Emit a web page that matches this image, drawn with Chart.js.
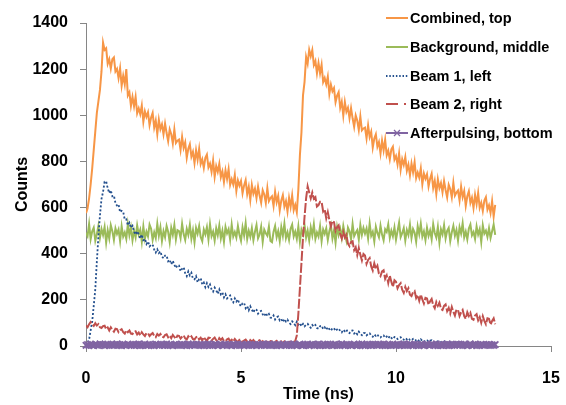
<!DOCTYPE html>
<html>
<head>
<meta charset="utf-8">
<script src="https://cdn.jsdelivr.net/npm/chart.js@4.4.1/dist/chart.umd.min.js"></script>
<style>
  body { margin: 0; background: #fff; }
  #wrap { position: relative; width: 566px; height: 405px; }
  #legend { position: absolute; left: 384px; top: 0; font: bold 14.5px "Liberation Sans", Arial, sans-serif; color: #000; }
  .row { position: absolute; left: 0; height: 20px; line-height: 20px; white-space: nowrap; }
  .row svg { position: absolute; left: 0; top: 0; }
  .row span { position: absolute; left: 26px; }
</style>
</head>
<body>
<div id="wrap">
  <canvas id="chart" width="566" height="405"></canvas>
  <div id="legend"></div>
</div>
<script>
// sample times (ns), 0.05 ns apart
const times = [
  0, 0.05, 0.1, 0.15, 0.2, 0.25, 0.3, 0.35, 0.4, 0.45,
  0.5, 0.55, 0.6, 0.65, 0.7, 0.75, 0.8, 0.85, 0.9, 0.95,
  1, 1.05, 1.1, 1.15, 1.2, 1.25, 1.3, 1.35, 1.4, 1.45,
  1.5, 1.55, 1.6, 1.65, 1.7, 1.75, 1.8, 1.85, 1.9, 1.95,
  2, 2.05, 2.1, 2.15, 2.2, 2.25, 2.3, 2.35, 2.4, 2.45,
  2.5, 2.55, 2.6, 2.65, 2.7, 2.75, 2.8, 2.85, 2.9, 2.95,
  3, 3.05, 3.1, 3.15, 3.2, 3.25, 3.3, 3.35, 3.4, 3.45,
  3.5, 3.55, 3.6, 3.65, 3.7, 3.75, 3.8, 3.85, 3.9, 3.95,
  4, 4.05, 4.1, 4.15, 4.2, 4.25, 4.3, 4.35, 4.4, 4.45,
  4.5, 4.55, 4.6, 4.65, 4.7, 4.75, 4.8, 4.85, 4.9, 4.95,
  5, 5.05, 5.1, 5.15, 5.2, 5.25, 5.3, 5.35, 5.4, 5.45,
  5.5, 5.55, 5.6, 5.65, 5.7, 5.75, 5.8, 5.85, 5.9, 5.95,
  6, 6.05, 6.1, 6.15, 6.2, 6.25, 6.3, 6.35, 6.4, 6.45,
  6.5, 6.55, 6.6, 6.65, 6.7, 6.75, 6.8, 6.85, 6.9, 6.95,
  7, 7.05, 7.1, 7.15, 7.2, 7.25, 7.3, 7.35, 7.4, 7.45,
  7.5, 7.55, 7.6, 7.65, 7.7, 7.75, 7.8, 7.85, 7.9, 7.95,
  8, 8.05, 8.1, 8.15, 8.2, 8.25, 8.3, 8.35, 8.4, 8.45,
  8.5, 8.55, 8.6, 8.65, 8.7, 8.75, 8.8, 8.85, 8.9, 8.95,
  9, 9.05, 9.1, 9.15, 9.2, 9.25, 9.3, 9.35, 9.4, 9.45,
  9.5, 9.55, 9.6, 9.65, 9.7, 9.75, 9.8, 9.85, 9.9, 9.95,
  10, 10.05, 10.1, 10.15, 10.2, 10.25, 10.3, 10.35, 10.4, 10.45,
  10.5, 10.55, 10.6, 10.65, 10.7, 10.75, 10.8, 10.85, 10.9, 10.95,
  11, 11.05, 11.1, 11.15, 11.2, 11.25, 11.3, 11.35, 11.4, 11.45,
  11.5, 11.55, 11.6, 11.65, 11.7, 11.75, 11.8, 11.85, 11.9, 11.95,
  12, 12.05, 12.1, 12.15, 12.2, 12.25, 12.3, 12.35, 12.4, 12.45,
  12.5, 12.55, 12.6, 12.65, 12.7, 12.75, 12.8, 12.85, 12.9, 12.95,
  13, 13.05, 13.1, 13.15, 13.2
];

const combined = [
  576, 596, 640, 700, 770, 850, 930, 1010, 1060, 1110,
  1190, 1315, 1283, 1290, 1223, 1243, 1202, 1243, 1251, 1190,
  1201, 1161, 1204, 1128, 1171, 1134, 1200, 1086, 1100, 1041,
  1080, 1039, 1080, 1009, 1030, 1005, 1043, 972, 1017, 993,
  1013, 957, 990, 1010, 947, 977, 918, 981, 940, 961,
  918, 964, 923, 888, 939, 918, 878, 939, 880, 890,
  895, 850, 907, 859, 883, 816, 855, 875, 821, 842,
  793, 849, 807, 855, 789, 809, 772, 816, 830, 774,
  791, 755, 804, 733, 780, 755, 790, 732, 757, 711,
  762, 724, 767, 699, 723, 700, 741, 672, 718, 695,
  715, 662, 696, 719, 658, 690, 633, 698, 660, 682,
  641, 691, 652, 621, 675, 657, 620, 684, 628, 641,
  649, 607, 668, 623, 651, 588, 631, 654, 604, 628,
  583, 642, 603, 653, 589, 612, 580, 678, 826, 925,
  1086, 1145, 1253, 1224, 1284, 1256, 1283, 1218, 1236, 1182,
  1227, 1182, 1219, 1144, 1162, 1134, 1168, 1093, 1133, 1104,
  1118, 1057, 1085, 1100, 1032, 1059, 998, 1058, 1015, 1033,
  987, 1031, 987, 950, 999, 977, 936, 995, 935, 943,
  947, 900, 956, 906, 929, 860, 899, 918, 864, 884,
  835, 890, 848, 894, 827, 847, 809, 852, 864, 808,
  824, 787, 835, 764, 810, 785, 819, 760, 786, 740,
  791, 753, 797, 728, 752, 730, 770, 701, 748, 725,
  745, 691, 725, 747, 685, 716, 659, 723, 684, 707,
  666, 715, 676, 644, 699, 680, 644, 707, 652, 665,
  674, 631, 691, 645, 672, 607, 649, 671, 620, 643,
  598, 655, 615, 664, 599, 621, 585, 630, 645, 591,
  610, 577, 628, 561, 612
];

const background = [
  491, 476, 529, 463, 497, 513, 456, 485, 521, 469,
  507, 481, 516, 448, 501, 466, 524, 498, 460, 510,
  486, 505, 454, 519, 474, 492, 464, 528, 480, 514,
  458, 500, 470, 523, 484, 504, 452, 518, 465, 496,
  475, 526, 508, 460, 493, 468, 530, 478, 515, 455,
  498, 472, 520, 495, 450, 512, 482, 525, 462, 502,
  498, 468, 530, 485, 460, 508, 482, 525, 465, 502,
  450, 512, 487, 520, 472, 454, 505, 484, 515, 462,
  528, 476, 496, 457, 510, 480, 522, 466, 500, 452,
  516, 488, 506, 461, 526, 475, 494, 470, 520, 482,
  456, 514, 479, 532, 464, 499, 473, 511, 459, 495,
  524, 467, 483, 517, 451, 504, 489, 478, 518, 455,
  450, 495, 520, 472, 498, 455, 515, 478, 530, 468,
  493, 460, 508, 526, 475, 496, 465, 518, 452, 504,
  484, 523, 470, 500, 458, 514, 480, 528, 464, 492,
  474, 519, 454, 505, 486, 510, 460, 498, 524, 466,
  501, 448, 516, 481, 507, 469, 521, 485, 456, 513,
  497, 463, 529, 476, 491, 502, 462, 525, 482, 512,
  487, 509, 466, 531, 478, 495, 453, 517, 490, 471,
  522, 483, 458, 506, 494, 527, 469, 500, 476, 514,
  461, 498, 535, 472, 489, 511, 457, 503, 481, 526,
  468, 507, 492, 452, 519, 485, 530, 474, 497, 459,
  513, 477, 501, 463, 528, 490, 470, 516, 449, 506,
  484, 524, 466, 499, 512, 455, 493, 521, 478, 503,
  457, 515, 488, 532, 471, 496, 462, 509, 527, 480,
  494, 464, 518, 483, 506, 451, 523, 487, 500, 473,
  511, 468, 497, 526, 482
];

const beam1 = [
  0, 12, 28, 68, 106, 175, 246, 366, 476, 566,
  638, 668, 712, 714, 684, 663, 675, 649, 652, 619,
  609, 614, 580, 586, 582, 548, 549, 523, 534, 512,
  521, 496, 483, 497, 484, 466, 483, 459, 465, 442,
  453, 432, 438, 440, 418, 405, 419, 403, 410, 388,
  380, 392, 392, 367, 374, 354, 369, 352, 338, 351,
  349, 324, 335, 341, 316, 303, 323, 306, 317, 291,
  289, 302, 276, 290, 294, 267, 275, 255, 272, 256,
  267, 246, 236, 253, 242, 226, 245, 224, 232, 211,
  224, 206, 214, 219, 199, 189, 206, 193, 202, 182,
  172, 185, 187, 164, 173, 155, 172, 157, 145, 160,
  157, 140, 149, 152, 137, 129, 143, 131, 139, 123,
  122, 132, 115, 125, 128, 111, 117, 104, 117, 106,
  114, 101, 95, 107, 100, 90, 105, 92, 99, 86,
  96, 85, 92, 96, 85, 79, 91, 84, 91, 78,
  75, 86, 88, 74, 81, 70, 82, 73, 66, 77,
  77, 65, 72, 76, 65, 59, 71, 64, 71, 58,
  56, 66, 67, 54, 61, 51, 62, 53, 47, 57,
  56, 46, 52, 55, 45, 40, 50, 44, 50, 39,
  37, 45, 46, 36, 41, 33, 43, 35, 30, 39,
  38, 30, 36, 38, 29, 27, 34, 29, 34, 26,
  24, 31, 32, 23, 28, 21, 29, 22, 18, 26,
  25, 19, 23, 25, 18, 16, 22, 18, 21, 16,
  14, 19, 21, 14, 18, 13, 18, 14, 11, 17,
  16, 11, 15, 17, 11, 10, 15, 12, 16, 10,
  10, 14, 15, 10, 13, 8, 14, 10, 8, 13,
  13, 9, 11, 13, 9
];

const beam2 = [
  89, 81, 94, 104, 94, 87, 99, 89, 95, 81,
  78, 86, 88, 73, 80, 67, 81, 70, 62, 75,
  73, 60, 68, 73, 60, 54, 68, 60, 67, 54,
  52, 61, 64, 50, 58, 46, 60, 50, 43, 56,
  55, 43, 51, 56, 44, 38, 52, 45, 52, 40,
  38, 48, 51, 38, 45, 34, 48, 39, 31, 45,
  44, 32, 40, 46, 33, 28, 42, 35, 42, 30,
  28, 38, 41, 28, 36, 24, 39, 29, 22, 36,
  35, 23, 31, 37, 25, 19, 34, 26, 34, 22,
  21, 29, 32, 21, 27, 19, 30, 22, 17, 27,
  27, 17, 24, 28, 19, 14, 26, 20, 26, 16,
  16, 22, 25, 16, 21, 12, 23, 17, 12, 21,
  20, 12, 18, 22, 13, 10, 20, 14, 20, 12,
  11, 18, 19, 11, 16, 22, 45, 140, 250, 360,
  470, 560, 640, 692, 665, 640, 665, 638, 645, 604,
  610, 625, 625, 583, 592, 553, 580, 546, 518, 542,
  537, 499, 515, 523, 486, 466, 495, 470, 482, 444,
  433, 451, 454, 415, 428, 394, 425, 395, 371, 399,
  392, 356, 373, 381, 345, 327, 358, 335, 348, 313,
  303, 323, 328, 291, 306, 273, 306, 278, 256, 285,
  278, 250, 264, 272, 244, 230, 256, 238, 250, 222,
  216, 233, 238, 208, 221, 196, 223, 202, 184, 209,
  206, 179, 194, 204, 177, 164, 191, 174, 188, 161,
  156, 174, 180, 151, 165, 141, 169, 148, 132, 158,
  156, 130, 146, 156, 130, 118, 146, 130, 144, 118,
  114, 132, 138, 111, 125, 101, 129, 109, 94, 120,
  118, 93, 109, 120, 94
];

const afterpulsing = [
  3, 6, 2, 8, 4, 1, 7, 5, 2, 9,
  4, 6, 1, 5, 8, 3, 7, 2, 5, 4,
  9, 3, 6, 1, 7, 4, 2, 8, 5, 3,
  6, 2, 7, 4, 9, 1, 5, 3, 8, 2,
  4, 7, 3, 6, 1, 8, 5, 2, 6, 4,
  7, 3, 9, 2, 5, 4, 1, 6, 8, 3,
  5, 2, 7, 4, 6, 1, 9, 3, 5, 7,
  2, 8, 4, 6, 3, 5, 1, 7, 4, 9,
  3, 5, 2, 8, 6, 1, 4, 7, 3, 5,
  8, 2, 6, 4, 1, 7, 5, 3, 9, 2,
  6, 4, 1, 5, 8, 3, 7, 2, 4, 6,
  1, 7, 5, 3, 9, 2, 6, 4, 8, 3,
  5, 2, 7, 1, 6, 4, 3, 8, 5, 2,
  6, 3, 7, 2, 9, 4, 1, 5, 8, 3,
  2, 6, 4, 8, 1, 5, 7, 3, 6, 4,
  9, 1, 5, 3, 7, 2, 8, 4, 6, 1,
  4, 8, 2, 6, 3, 9, 5, 1, 7, 3,
  6, 2, 5, 8, 4, 1, 7, 3, 9, 5,
  1, 6, 3, 7, 2, 8, 4, 6, 2, 5,
  7, 4, 9, 1, 5, 3, 6, 2, 8, 4,
  3, 7, 1, 6, 4, 9, 2, 5, 3, 8,
  5, 1, 8, 3, 6, 2, 7, 4, 1, 6,
  8, 4, 2, 7, 5, 3, 9, 1, 6, 2,
  2, 6, 4, 9, 1, 5, 3, 7, 4, 8,
  6, 3, 7, 2, 8, 4, 1, 5, 9, 3,
  4, 8, 1, 6, 3, 7, 5, 2, 6, 4,
  7, 2, 5, 3, 6
];

const seriesLabels = ['Combined, top', 'Background, middle', 'Beam 1, left', 'Beam 2, right', 'Afterpulsing, bottom'];
const xTickValues = [0, 5, 10, 15];
const yTickValues = [0, 200, 400, 600, 800, 1000, 1200, 1400];

const AXIS_GREY = '#868686';
const FONT_FAMILY = '"Liberation Sans", Arial, sans-serif';

// per-series look; svgDash is only for the legend sample
const STYLES = [
  { color: '#F79646', width: 2, dash: [], svgDash: '' },
  { color: '#9BBB59', width: 2, dash: [], svgDash: '' },
  { color: '#24508E', width: 1.8, dash: [2, 2], svgDash: '1.5 1.8' },
  { color: '#C0504D', width: 2, dash: [10, 2], svgDash: '12 6 2 30' },
  { color: '#8064A2', width: 3, dash: [], svgDash: '', marker: true }
];

const seriesValues = [combined, background, beam1, beam2, afterpulsing];

const datasets = seriesValues.map((vals, i) => {
  const st = STYLES[i];
  return {
    label: seriesLabels[i],
    data: times.map((t, k) => ({ x: t, y: vals[k] })),
    borderColor: st.color,
    backgroundColor: st.color,
    borderWidth: st.width,
    borderDash: st.dash,
    fill: false,
    tension: 0,
    pointRadius: st.marker ? 4.5 : 0,
    pointStyle: 'crossRot',
    pointBorderWidth: 1.8,
    pointBorderColor: st.color,
    clip: st.marker ? 8 : undefined,   // markers on the axis line are not cut off
    order: 5 - i   // later series sit on top, like the original
  };
});

const tickFont = { family: FONT_FAMILY, size: 16, weight: 'bold' };

new Chart(document.getElementById('chart'), {
  type: 'line',
  data: { datasets },
  options: {
    responsive: false,
    animation: false,
    devicePixelRatio: 1,
    layout: { padding: { top: 23, right: 15, left: 0, bottom: 0 } },
    plugins: { legend: { display: false }, tooltip: { enabled: false } },
    scales: {
      x: {
        type: 'linear', min: 0, max: 15,
        // fixed box height; drop the label overhang so the plot keeps its right edge
        afterFit: s => { s.height = 59; s.paddingLeft = 0; s.paddingRight = 0; },
        afterBuildTicks: s => { s.ticks = xTickValues.map(v => ({ value: v })); },
        grid: { drawOnChartArea: false, tickLength: 6, color: AXIS_GREY },
        border: { color: AXIS_GREY },
        ticks: { color: '#000', font: tickFont, padding: 17, maxRotation: 0, callback: v => String(v) },
        title: { display: true, text: 'Time (ns)', color: '#000', font: tickFont, padding: { top: 0, bottom: 1 } }
      },
      y: {
        type: 'linear', min: 0, max: 1400,
        afterFit: s => { s.width = 86; },
        afterBuildTicks: s => { s.ticks = yTickValues.map(v => ({ value: v })); },
        grid: { drawOnChartArea: false, tickLength: 6, color: AXIS_GREY },
        border: { color: AXIS_GREY },
        ticks: { color: '#000', font: tickFont, padding: 12, callback: v => String(v) },
        title: { display: true, text: 'Counts', color: '#000', font: tickFont, padding: { top: 13, bottom: 0 } }
      }
    }
  }
});

// legend drawn as html on top of the plot area
const legend = document.getElementById('legend');
const rowCentres = [18, 47, 76, 104, 133];
seriesLabels.forEach((lbl, i) => {
  const st = STYLES[i];
  const row = document.createElement('div');
  row.className = 'row';
  row.style.top = (rowCentres[i] - 10) + 'px';
  let svg = `<svg width="26" height="20"><line x1="2" y1="10" x2="24" y2="10" stroke="${st.color}" stroke-width="2"` +
    (st.svgDash ? ` stroke-dasharray="${st.svgDash}"` : '') + `/>`;
  if (st.marker) svg += `<path d="M10 7 L16 13 M16 7 L10 13" stroke="${st.color}" stroke-width="1.3"/>`;
  svg += `</svg>`;
  row.innerHTML = svg + `<span>${lbl}</span>`;
  legend.appendChild(row);
});
</script>
</body>
</html>
